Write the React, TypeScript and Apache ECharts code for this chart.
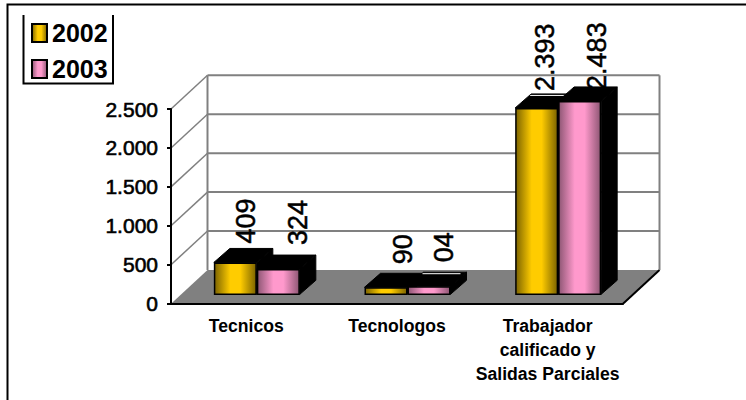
import React, { useEffect, useRef } from "react";
import * as echarts from "echarts";

const categories = ["Tecnicos", "Tecnologos", "Trabajador\ncalificado y\nSalidas Parciales"];
const years = ["2002", "2003"];
const values2002 = [409, 90, 2393];
const values2003 = [324, 104, 2483];
const labels2002 = ["409", "90", "2.393"];
const labels2003 = ["324", "04", "2.483"];
const yTicks = [0, 500, 1000, 1500, 2000, 2500];
const yTickLabels = ["0", "500", "1.000", "1.500", "2.000", "2.500"];

// 3D projection constants (style, not data)
const WALL_DX = 36.5;
const WALL_DY = -33.7;
const BAR_DX = 10.5;
const BAR_DY = -9.4;
const BAR_W = 43;
const TOP_DX = 16;
const TOP_DY = -14;
const nudges2002 = [[11, -19], [17, -23], [8, -17]];
const nudges2003 = [[20, -24], [15, -24], [17, -11]];
const highlight2002 = [false, false, true];
const highlight2003 = [false, true, false];

const FONT = '"Liberation Sans", Arial, sans-serif';

function cyl(dark: string, mid: string) {
  return new echarts.graphic.LinearGradient(0, 0, 1, 0, [
    { offset: 0, color: dark },
    { offset: 0.38, color: mid },
    { offset: 0.62, color: mid },
    { offset: 1, color: dark },
  ]);
}
const yellowFill = () => cyl("#7d6400", "#ffcc00");
const pinkFill = () => cyl("#8f5775", "#ff99cc");

function barSeries(name: string, values: number[], labels: string[], side: 0 | 1, fill: () => any, nudges: number[][], hl: boolean[]) {
  return {
    name,
    type: "custom",
    coordinateSystem: "cartesian2d",
    silent: true,
    z: 4 + side,
    itemStyle: { color: fill() },
    data: values.map((v, i) => [i, v]),
    renderItem: (_p: any, api: any) => {
      const i = api.value(0);
      const base = api.coord([i, 0]);
      const top = api.coord([i, api.value(1)]);
      const x0 = base[0] + BAR_DX - BAR_W + side * BAR_W;
      const x1 = x0 + BAR_W;
      const yB = base[1] + BAR_DY;
      const yT = top[1] + BAR_DY;
      const children: any[] = [
        {
          type: "text",
          x: (x0 + x1) / 2 + nudges[i][0],
          y: yT + nudges[i][1],
          rotation: Math.PI / 2,
          style: {
            text: labels[i],
            font: `27px ${FONT}`,
            fill: "#000",
            stroke: "#000",
            lineWidth: 0.5,
            textAlign: "left",
            textVerticalAlign: "middle",
          },
        },
        {
          type: "polygon",
          shape: { points: [[x0, yT], [x1, yT], [x1 + TOP_DX, yT + TOP_DY], [x0 + TOP_DX, yT + TOP_DY]] },
          style: { fill: "#000", stroke: "#000", lineWidth: 1 },
        },
        {
          type: "polygon",
          shape: { points: [[x1, yT], [x1 + TOP_DX, yT + TOP_DY], [x1 + TOP_DX, yB + TOP_DY], [x1, yB]] },
          style: { fill: "#000", stroke: "#000", lineWidth: 1 },
        },
      ];
      if (hl[i]) {
        children.push({
          type: "line",
          shape: { x1: x0 + TOP_DX - 1, y1: yT + TOP_DY + 1.5, x2: x1 + TOP_DX - 6, y2: yT + TOP_DY + 1.5 },
          style: { stroke: "#fff", lineWidth: 1 },
        });
      }
      children.push({
        type: "rect",
        shape: { x: x0 + 0.75, y: yT + 0.75, width: BAR_W - 1.5, height: yB - yT - 0.75 },
        style: { fill: fill(), stroke: "#000", lineWidth: 1.5 },
      });
      return { type: "group", children };
    },
  };
}

export default function App() {
  const ref = useRef<HTMLDivElement>(null);
  useEffect(() => {
    const chart = echarts.init(ref.current!, undefined, { renderer: "svg" });
    const gray = "#808080";
    chart.setOption({
      animation: false,
      backgroundColor: "#fff",
      textStyle: { fontFamily: FONT },
      grid: { left: 171, right: 123, top: 109, bottom: 96.3 },
      legend: {
        orient: "vertical",
        left: 26,
        top: 15.5,
        itemWidth: 15,
        itemHeight: 18,
        itemGap: 11,
        selectedMode: false,
        textStyle: { fontFamily: FONT, fontSize: 25, fontWeight: "bold", color: "#000", padding: [0, 0, 0, 0] },
        data: [
          { name: years[0], icon: "rect", itemStyle: { color: yellowFill(), borderColor: "#000", borderWidth: 2 } },
          { name: years[1], icon: "rect", itemStyle: { color: pinkFill(), borderColor: "#000", borderWidth: 2 } },
        ],
      },
      xAxis: {
        type: "category",
        data: categories,
        z: 6,
        axisLine: { lineStyle: { color: "#000", width: 2 } },
        axisTick: { length: 5, lineStyle: { color: "#000", width: 2 } },
        axisLabel: {
          interval: 0,
          margin: 10.5,
          color: "#000",
          fontFamily: FONT,
          fontSize: 17.6,
          fontWeight: "bold",
          lineHeight: 24,
        },
        splitLine: { show: false },
      },
      yAxis: {
        type: "value",
        min: 0,
        max: 2500,
        interval: 500,
        z: 6,
        axisLine: { show: true, lineStyle: { color: "#000", width: 2 } },
        axisTick: { show: true, length: 4, lineStyle: { color: "#000", width: 2 } },
        axisLabel: {
          margin: 13,
          color: "#000",
          fontFamily: FONT,
          fontSize: 21,
          textBorderColor: "#000",
          textBorderWidth: 0.6,
          formatter: (v: number) => yTickLabels[yTicks.indexOf(v)] ?? "",
        },
        splitLine: { show: false },
      },
      graphic: [
        {
          type: "polyline",
          shape: { points: [[7.5, 400], [7.5, 4.5], [746, 4.5]] },
          style: { stroke: "#000", fill: "none", lineWidth: 2 },
          z: 10,
        },
        {
          type: "polyline",
          shape: { points: [[23.5, 15], [23.5, 83.5], [113, 83.5], [113, 15]] },
          style: { stroke: "#000", fill: "none", lineWidth: 2 },
          z: 10,
        },
      ],
      series: [
        {
          name: "walls",
          type: "custom",
          silent: true,
          z: 1,
          data: yTicks.map((t) => [t]),
          renderItem: (p: any, api: any) => {
            const v = api.value(0);
            const a = api.coord([0, v]);
            const left = p.coordSys.x;
            const right = left + p.coordSys.width;
            const y = a[1];
            const children: any[] = [];
            if (v === 0) {
              children.push({
                type: "polygon",
                shape: {
                  points: [[left, y], [right, y], [right + WALL_DX, y + WALL_DY], [left + WALL_DX, y + WALL_DY]],
                },
                style: { fill: gray },
              });
              children.push({
                type: "line",
                shape: { x1: right, y1: y, x2: right + WALL_DX, y2: y + WALL_DY },
                style: { stroke: "#000", lineWidth: 2 },
              });
              const topY = p.coordSys.y + WALL_DY;
              [left + WALL_DX, right + WALL_DX].forEach((x) => {
                children.push({
                  type: "line",
                  shape: { x1: x, y1: y + WALL_DY, x2: x, y2: topY },
                  style: { stroke: gray, lineWidth: 2 },
                });
              });
            } else {
              children.push({
                type: "line",
                shape: { x1: left, y1: y, x2: left + WALL_DX, y2: y + WALL_DY },
                style: { stroke: gray, lineWidth: 1.5 },
              });
              children.push({
                type: "line",
                shape: { x1: left + WALL_DX, y1: y + WALL_DY, x2: right + WALL_DX, y2: y + WALL_DY },
                style: { stroke: gray, lineWidth: 2 },
              });
            }
            return { type: "group", children };
          },
        },
        barSeries(years[0], values2002, labels2002, 0, yellowFill, nudges2002, highlight2002),
        barSeries(years[1], values2003, labels2003, 1, pinkFill, nudges2003, highlight2003),
      ],
    });
    return () => chart.dispose();
  }, []);
  return <div ref={ref} style={{ position: "absolute", left: 0, top: 0, width: 746, height: 400 }} />;
}
